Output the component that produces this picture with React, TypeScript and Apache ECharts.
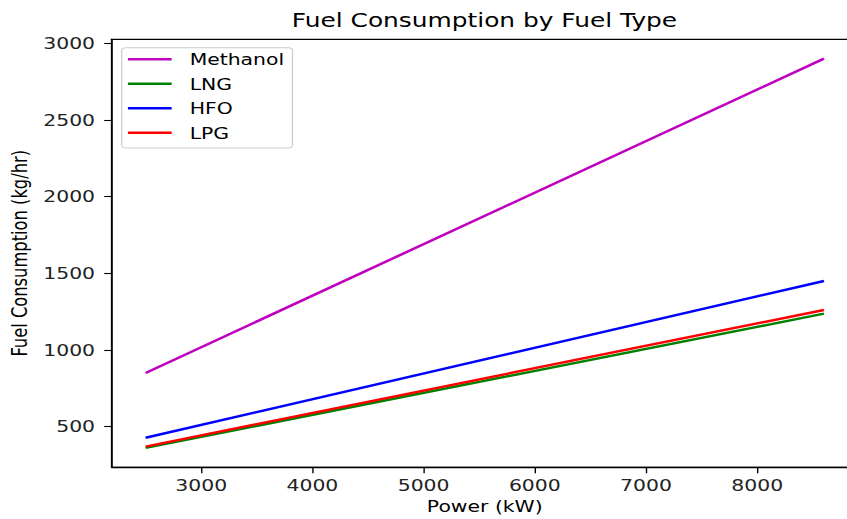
import React, { useEffect, useRef } from "react";
import * as echarts from "echarts";

const powerKW = [2500, 8600];
const methanol = [850, 2900];
const lng = [362, 1237];
const hfo = [428, 1450];
const lpg = [370, 1261];
const seriesNames = ["Methanol", "LNG", "HFO", "LPG"];
const seriesColors = ["#bf00bf", "#008000", "#0000ff", "#ff0000"];
const xTicks = [3000, 4000, 5000, 6000, 7000, 8000];
const yTicks = [500, 1000, 1500, 2000, 2500, 3000];

const FONT = "DejaVu Sans";
const INNER_W = 678;
const SCALE_X = 847 / INNER_W;

export default function App() {
  const ref = useRef<HTMLDivElement>(null);
  useEffect(() => {
    if (!ref.current) return;
    const chart = echarts.init(ref.current, undefined, { renderer: "svg" });
    const all = [methanol, lng, hfo, lpg];
    const plain = (v: number) => String(v);
    chart.setOption({
      animation: false,
      backgroundColor: "#ffffff",
      title: {
        text: "Fuel Consumption by Fuel Type",
        left: 387.8,
        top: 9.5,
        padding: 0,
        textAlign: "center",
        textStyle: { fontFamily: FONT, fontSize: 19.9, fontWeight: "normal", color: "#000" },
      },
      grid: {
        left: 89.4,
        right: -8.7,
        top: 39.3,
        bottom: 51.7,
        outerBoundsMode: "none",
        containLabel: false,
        show: true,
        borderColor: "#000",
        borderWidth: 1.3,
        backgroundColor: "transparent",
      },
      legend: {
        left: 97.4,
        top: 47.7,
        orient: "vertical",
        icon: "rect",
        itemWidth: 35,
        itemHeight: 2.5,
        itemGap: 6.5,
        padding: [2.6, 6.8, 6.2, 5],
        backgroundColor: "rgba(255,255,255,0.8)",
        borderColor: "#cccccc",
        borderWidth: 1,
        borderRadius: 3,
        data: seriesNames,
        textStyle: { fontFamily: FONT, fontSize: 16.3, color: "#000", lineHeight: 18, padding: [0, 0, 0, 9.4] },
      },
      xAxis: {
        type: "value",
        min: 2195,
        max: 8905,
        name: "Power (kW)",
        nameLocation: "middle",
        nameGap: 31,
        nameTextStyle: { fontFamily: FONT, fontSize: 16.3, color: "#000" },
        axisLine: { show: true, lineStyle: { color: "#000", width: 1.3 } },
        axisTick: { show: true, inside: false, length: 6, lineStyle: { color: "#000", width: 1.1 }, customValues: xTicks },
        axisLabel: { fontFamily: FONT, fontSize: 16.3, color: "#222", margin: 10, customValues: xTicks, formatter: plain },
        splitLine: { show: false },
      },
      yAxis: {
        type: "value",
        min: 235,
        max: 3026,
        name: "Fuel Consumption (kg/hr)",
        nameLocation: "middle",
        nameGap: 63,
        nameTextStyle: { fontFamily: FONT, fontSize: 16.3, color: "#000", lineHeight: 16.3 },
        axisLine: { show: true, lineStyle: { color: "#000", width: 1.3 } },
        axisTick: { show: true, inside: false, length: 6, lineStyle: { color: "#000", width: 1.1 }, customValues: yTicks },
        axisLabel: { fontFamily: FONT, fontSize: 16.3, color: "#222", margin: 13.3, customValues: yTicks, formatter: plain },
        splitLine: { show: false },
      },
      series: seriesNames.map((name, i) => ({
        name,
        type: "line",
        symbol: "none",
        color: seriesColors[i],
        lineStyle: { color: seriesColors[i], width: 2.45 },
        data: powerKW.map((p, j) => [p, all[i][j]]),
      })),
    });
    return () => chart.dispose();
  }, []);
  return (
    <div style={{ position: "fixed", left: 0, top: 0, width: 847, height: 519, overflow: "hidden", background: "#fff" }}>
      <div
        ref={ref}
        style={{ width: INNER_W, height: 519, transform: `scaleX(${SCALE_X})`, transformOrigin: "0 0" }}
      />
    </div>
  );
}
